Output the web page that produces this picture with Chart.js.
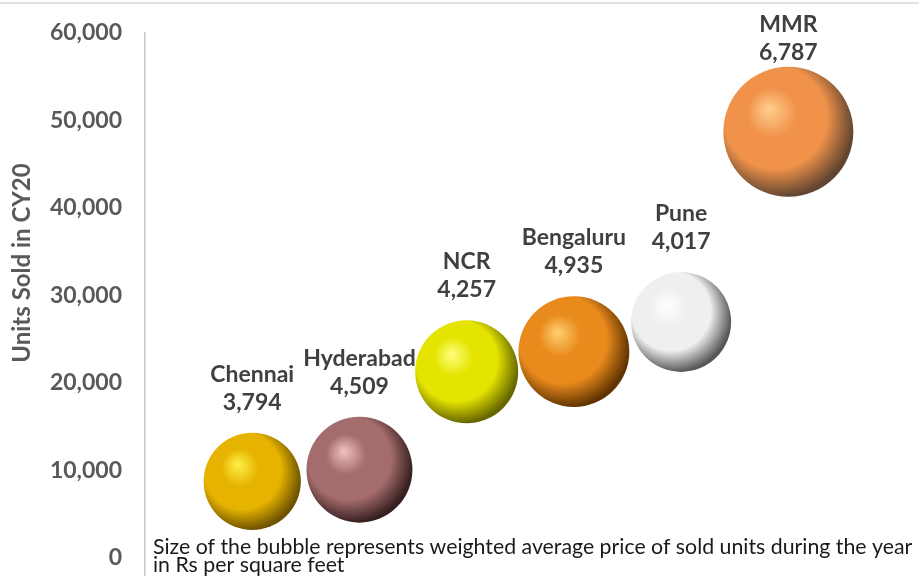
<!DOCTYPE html>
<html>
<head>
<meta charset="utf-8">
<script src="https://cdn.jsdelivr.net/npm/chart.js@4.4.1/dist/chart.umd.min.js"></script>
<style>
  html, body { margin: 0; padding: 0; background: #ffffff; }
  #wrap { position: relative; width: 919px; height: 584px; }
  #topline { position: absolute; left: 0; top: 2px; width: 919px; height: 2px; background: #e4e1de; }
  canvas { position: absolute; left: 0; top: 0; }
</style>
</head>
<body>
<div id="wrap">
  <canvas id="c" width="919" height="584"></canvas>
  <div id="topline"></div>
</div>
<script>
// ---- Data ----
const cities = ['Chennai', 'Hyderabad', 'NCR', 'Bengaluru', 'Pune', 'MMR'];
const unitsSold = [8700, 10050, 21250, 23550, 26950, 48700];   // Units sold in CY20
const avgPrice = [3794, 4509, 4257, 4935, 4017, 6787];          // Rs per sq ft (bubble size)
const xPositions = [1, 2, 3, 4, 5, 6];
const yTicks = [0, 10000, 20000, 30000, 40000, 50000, 60000];
const yTitle = 'Units Sold in CY20';
const noteLines = [
  'Size of the bubble represents weighted average price of sold units during the year',
  'in Rs per square feet'
];

// sphere colours: [highlight, base, dark]
const sphereColors = [
  ['#fff04a', '#e6b400', '#6e5200'],
  ['#f2c2c2', '#a46c6c', '#361f1f'],
  ['#ffff80', '#e4e400', '#666600'],
  ['#ffd070', '#e98a1c', '#603400'],
  ['#ffffff', '#efefef', '#575757'],
  ['#ffcf8e', '#f0924a', '#614530']
];

const maxPrice = Math.max(...avgPrice);
const R_MAX = 65;
function radiusFor(i) { return R_MAX * Math.sqrt(avgPrice[i] / maxPrice); }

function sphereFill(ctx) {
  const chart = ctx.chart;
  const i = ctx.dataIndex;
  const cols = sphereColors[i];
  if (!chart.chartArea || !chart.scales.x || !chart.scales.y) return cols[1];
  const cx = chart.scales.x.getPixelForValue(xPositions[i]);
  const cy = chart.scales.y.getPixelForValue(unitsSold[i]);
  const r = radiusFor(i);
  const g = chart.ctx.createRadialGradient(cx - 0.3 * r, cy - 0.35 * r, 0, cx - 0.15 * r, cy - 0.15 * r, r * 1.2);
  g.addColorStop(0, cols[0]);
  g.addColorStop(0.32, cols[1]);
  g.addColorStop(0.66, cols[1]);
  g.addColorStop(0.97, cols[2]);
  g.addColorStop(1, cols[2]);
  return g;
}

const labelPlugin = {
  id: 'cityLabels',
  afterDatasetsDraw(chart) {
    const c = chart.ctx;
    const meta = chart.getDatasetMeta(0);
    c.save();
    c.fillStyle = '#404040';
    c.font = 'bold 23px Lato';
    c.textAlign = 'center';
    c.textBaseline = 'alphabetic';
    meta.data.forEach((el, i) => {
      const r = radiusFor(i);
      const top = el.y - r;
      const first = Math.max(top - 51, 32);   // keep label inside the chart, as Excel does
      c.fillText(cities[i], el.x, first);
      c.fillText(avgPrice[i].toLocaleString('en-US'), el.x, first + 28);
    });
    c.restore();
  },
  afterDraw(chart) {
    const c = chart.ctx;
    c.save();
    // y-axis title
    c.fillStyle = '#595959';
    c.font = 'bold 24px Lato';
    c.textAlign = 'center';
    c.textBaseline = 'middle';
    c.translate(22, 263);
    c.rotate(-Math.PI / 2);
    c.fillText(yTitle, 0, 0);
    c.restore();
    // note
    c.save();
    c.fillStyle = '#1a1a1a';
    c.font = '21.3px Lato';
    c.textAlign = 'left';
    c.textBaseline = 'alphabetic';
    noteLines.forEach((t, k) => c.fillText(t, 153, 554 + k * 18));
    c.restore();
  }
};

new Chart(document.getElementById('c'), {
  type: 'bubble',
  data: {
    datasets: [{
      data: xPositions.map((x, i) => ({ x: x, y: unitsSold[i] })),
      radius: ctx => radiusFor(ctx.dataIndex),
      hoverRadius: 0,
      backgroundColor: sphereFill,
      borderWidth: 0,
      clip: false
    }]
  },
  options: {
    responsive: false,
    animation: false,
    events: [],
    layout: { autoPadding: false, padding: { top: 33, right: 2, bottom: 9, left: 0 } },
    plugins: { legend: { display: false }, tooltip: { enabled: false } },
    scales: {
      x: { type: 'linear', min: 0, max: 7.2, display: false },
      y: {
        type: 'linear',
        min: -2000,
        max: 60000,
        afterBuildTicks: axis => { axis.ticks = yTicks.map(v => ({ value: v })); },
        afterFit: s => { s.width = 145; },
        grid: { display: true, drawOnChartArea: false, drawTicks: true, tickLength: 23, tickColor: 'rgba(0,0,0,0)' },
        border: { display: true, color: '#c8c8c8', width: 1.5 },
        ticks: {
          padding: 0,
          color: '#595959',
          font: { family: 'Lato', size: 23, weight: 'bold', lineHeight: 0.5 },
          callback: v => v.toLocaleString('en-US')
        }
      }
    }
  },
  plugins: [labelPlugin]
});
</script>
</body>
</html>
